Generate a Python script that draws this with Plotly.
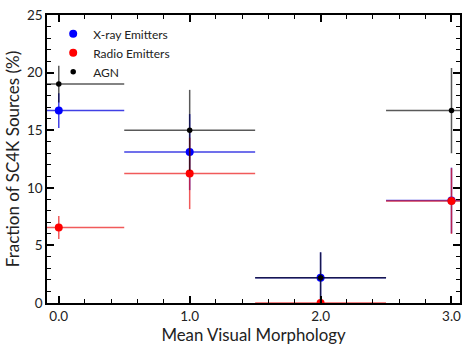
import plotly.graph_objects as go

x_vals = [0.0, 1.0, 2.0, 3.0]
xerr = [0.5, 0.5, 0.5, 0.5]

xray_y = [16.7, 13.1, 2.2, 8.9]
xray_err = [1.5, 3.3, 2.2, 2.85]

radio_y = [6.55, 11.25, 0.0, 8.85]
radio_err = [1.0, 3.1, 0.0, 2.85]

agn_y = [19.0, 15.0, 2.2, 16.7]
agn_err = [1.6, 3.5, 2.2, 3.7]

series = [
    ("X-ray Emitters", xray_y, xray_err, "#0000ff", "rgba(0,0,220,0.75)", 8),
    ("Radio Emitters", radio_y, radio_err, "#ff0000", "rgba(235,20,20,0.7)", 8),
    ("AGN", agn_y, agn_err, "#000000", "rgba(0,0,0,0.65)", 5.5),
]

fig = go.Figure()
for name, ys, errs, mc, ec, ms in series:
    fig.add_trace(go.Scatter(
        x=x_vals, y=ys, mode="markers", name=name,
        marker=dict(color=mc, size=ms),
        error_x=dict(type="data", array=xerr, symmetric=True, color=ec, thickness=1.5, width=0),
        error_y=dict(type="data", array=errs, symmetric=True, color=ec, thickness=1.5, width=0),
    ))

font_family = "Lato, 'DejaVu Sans', sans-serif"
axis_common = dict(
    showline=True, linecolor="black", linewidth=1.5, mirror="ticks",
    ticks="inside", ticklen=7, tickwidth=1.5, tickcolor="black",
    showgrid=False, zeroline=False,
    tickfont=dict(size=13.5, color="#222", family=font_family),
)

fig.update_layout(
    width=467, height=346,
    margin=dict(l=47, r=5, t=15, b=43),
    paper_bgcolor="white", plot_bgcolor="white",
    font=dict(family=font_family, color="#222"),
    showlegend=True,
    legend=dict(x=0.015, y=0.985, xanchor="left", yanchor="top",
                bgcolor="rgba(0,0,0,0)", font=dict(size=12), itemsizing="trace",
                tracegroupgap=0),
)
fig.update_xaxes(
    range=[-0.09, 3.065], tickvals=[0, 1, 2, 3], ticktext=["0.0", "1.0", "2.0", "3.0"],
    minor=dict(dtick=0.2, ticks="inside", ticklen=4, tickwidth=1.2, tickcolor="black"),
    title=dict(text="Mean Visual Morphology", font=dict(size=16.8), standoff=3),
    **axis_common,
)
fig.update_yaxes(
    range=[0, 25], tickvals=[0, 5, 10, 15, 20, 25],
    minor=dict(dtick=1, ticks="inside", ticklen=4, tickwidth=1.2, tickcolor="black"),
    title=dict(text="Fraction of SC4K Sources (%)", font=dict(size=17), standoff=3),
    **axis_common,
)

fig.write_html("out.html")
